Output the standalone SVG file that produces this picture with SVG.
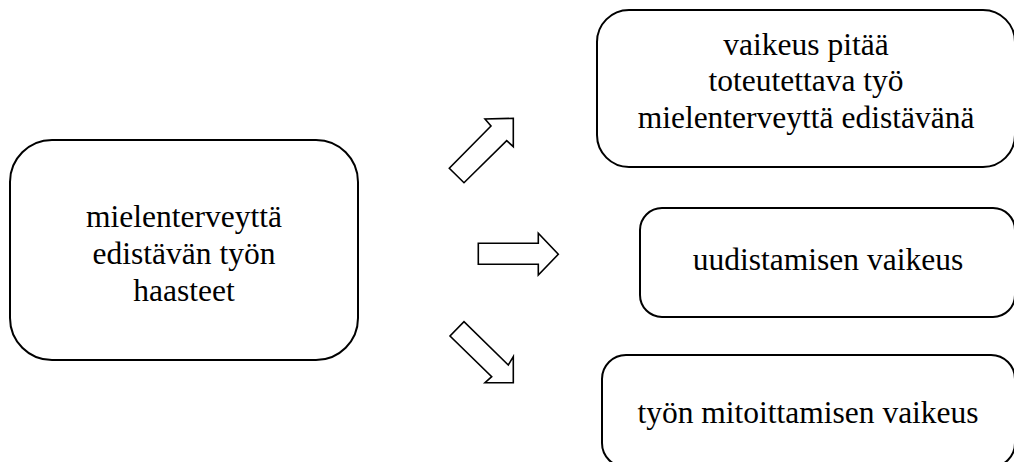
<svg xmlns="http://www.w3.org/2000/svg" width="1014" height="462" viewBox="0 0 1014 462">
  <style>
    .box { fill: #ffffff; stroke: #000000; stroke-width: 2; }
    .arrow { fill: #ffffff; stroke: #000000; stroke-width: 1.6; stroke-linejoin: miter; }
    .label { font-family: 'Liberation Serif', 'DejaVu Serif', serif; font-size: 31.5px; fill: #000000; text-anchor: middle; }
  </style>
  <rect width="1014" height="462" fill="#ffffff"/>

  <!-- central topic -->
  <g id="node-challenges">
    <rect class="box" x="10" y="140" width="348" height="220" rx="42" ry="42"/>
    <text class="label" x="184" y="227">mielenterveyttä</text>
    <text class="label" x="184" y="264">edistävän työn</text>
    <text class="label" x="184" y="301">haasteet</text>
  </g>

  <!-- outcomes -->
  <g id="node-keeping">
    <rect class="box" x="597" y="10" width="418" height="157" rx="32" ry="32"/>
    <text class="label" x="806" y="55">vaikeus pitää</text>
    <text class="label" x="806" y="91">toteutettava työ</text>
    <text class="label" x="806" y="128">mielenterveyttä edistävänä</text>
  </g>

  <g id="node-renewal">
    <rect class="box" x="640" y="208" width="375" height="109" rx="22" ry="22"/>
    <text class="label" x="828" y="270">uudistamisen vaikeus</text>
  </g>

  <g id="node-sizing">
    <rect class="box" x="602" y="355" width="413" height="112" rx="24" ry="24"/>
    <text class="label" x="808" y="423">työn mitoittamisen vaikeus</text>
  </g>

  <!-- block arrows -->
  <g id="connectors">
    <polygon class="arrow" points="513.3,118.3 513.3,146.7 506.7,140.7 464,182.7 449.3,168.3 491,126 485,119"/>
    <polygon class="arrow" points="478.3,243.3 538.3,243.3 538.3,233.3 558.3,254.3 538.3,275 538.3,264.3 478.3,264.3"/>
    <polygon class="arrow" points="513.3,382.7 485,382.7 491.7,376.7 450,336 464,321.7 508.3,365 513.3,356.7"/>
  </g>
</svg>
